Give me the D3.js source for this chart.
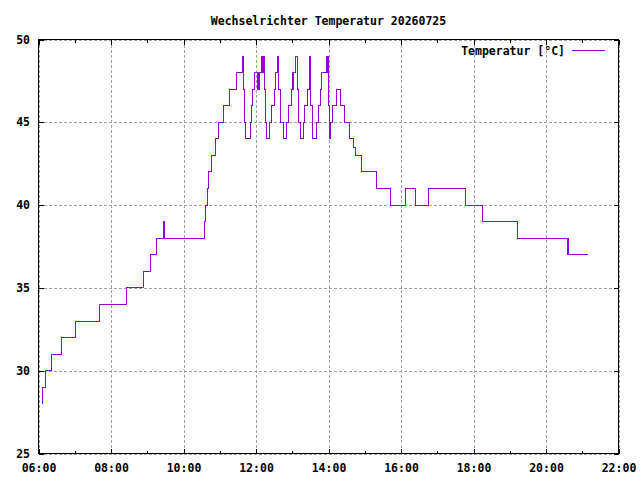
<!DOCTYPE html>
<html>
<head>
<meta charset="utf-8">
<script src="https://cdn.jsdelivr.net/npm/d3@7"></script>
<style>
body { margin: 0; background: #fff; }
text { font-family: "DejaVu Sans Mono", monospace; font-weight: bold; font-size: 11.5px; fill: #000; }
</style>
</head>
<body>
<div id="chart"></div>
<script>
// Messwerte (Zeitpunkt der Aenderung, Temperatur)
var times = [
    '06:06', '06:07', '06:12', '06:21', '06:38', '07:01', '07:41', '08:25', '08:54', '09:05',
    '09:16', '09:27', '09:29', '10:34', '10:36', '10:39', '10:42', '10:46', '10:53', '10:58',
    '11:06', '11:16', '11:27', '11:37', '11:40', '11:41', '11:43', '11:51', '11:52', '11:54',
    '11:57', '12:02', '12:03', '12:04', '12:05', '12:09', '12:11', '12:12', '12:14', '12:16',
    '12:18', '12:22', '12:25', '12:30', '12:32', '12:35', '12:37', '12:41', '12:45', '12:51',
    '12:54', '12:58', '13:00', '13:01', '13:02', '13:03', '13:05', '13:08', '13:11', '13:14',
    '13:18', '13:21', '13:26', '13:28', '13:29', '13:30', '13:31', '13:33', '13:40', '13:44',
    '13:47', '13:48', '13:56', '13:57', '13:58', '14:00', '14:01', '14:03', '14:07', '14:14',
    '14:20', '14:27', '14:35', '14:42', '14:44', '14:55', '15:20', '15:43', '16:07', '16:24',
    '16:45', '17:47', '18:15', '19:12', '20:35', '20:36', '20:37', '21:09'
];
var temps = [
    28, 29, 30, 31, 32, 33, 34, 35, 36, 37,
    38, 39, 38, 39, 40, 41, 42, 43, 44, 45,
    46, 47, 48, 49, 47, 45, 44, 45, 46, 47,
    48, 47, 48, 47, 48, 49, 48, 49, 47, 45,
    44, 45, 46, 47, 48, 49, 47, 45, 44, 45,
    46, 47, 48, 47, 48, 48, 49, 47, 45, 44,
    45, 46, 47, 48, 49, 48, 46, 44, 45, 46,
    47, 48, 49, 48, 49, 46, 44, 45, 46, 47,
    46, 45, 44, 43.5, 43, 42, 41, 40, 41, 40,
    41, 40, 39, 38, 37, 38, 37, 37
];
var y_ticks = [25, 30, 35, 40, 45, 50];
var x_domain = ['06:00', '22:00'];
var title = 'Wechselrichter Temperatur 20260725';
var series_name = 'Temperatur [°C]';

var chart_width = 640;
var chart_height = 480;
var plot = { left: 38.5, right: 618.5, top: 39.5, bottom: 453.5 };

var time_parse = d3.timeParse('%H:%M');
var time_format = d3.timeFormat('%H:%M');

var data = times.map(function (t, i) {
    return { date: time_parse(t), temp: temps[i] };
});

var svg = d3.select('#chart')
    .append('svg')
    .attr('width', chart_width)
    .attr('height', chart_height);

var x_scale = d3.scaleTime()
    .domain(x_domain.map(time_parse))
    .range([plot.left, plot.right]);

var y_scale = d3.scaleLinear()
    .domain([25, 50])
    .range([plot.bottom, plot.top]);

var major_x = d3.timeHour.every(2).range(x_scale.domain()[0], d3.timeMinute.offset(x_scale.domain()[1], 1));
var minor_x = d3.timeHour.range(x_scale.domain()[0], x_scale.domain()[1]).filter(function (d) {
    return d.getHours() % 2 == 1;
});

// Gitter
var grid = svg.append('g')
    .attr('stroke', '#a0a0a0')
    .attr('stroke-dasharray', '3,2')
    .attr('shape-rendering', 'crispEdges');
grid.selectAll('.gx')
    .data(major_x)
    .enter()
    .append('line')
    .attr('x1', function (d) { return Math.round(x_scale(d)) + 0.5; })
    .attr('x2', function (d) { return Math.round(x_scale(d)) + 0.5; })
    .attr('y1', plot.top)
    .attr('y2', plot.bottom);
grid.selectAll('.gy')
    .data(y_ticks)
    .enter()
    .append('line')
    .attr('x1', plot.left)
    .attr('x2', plot.right)
    .attr('y1', function (d) { return Math.round(y_scale(d)) + 0.5; })
    .attr('y2', function (d) { return Math.round(y_scale(d)) + 0.5; });

// Temperaturkurve
var line = d3.line()
    .x(function (d) { return x_scale(d.date); })
    .y(function (d) { return y_scale(d.temp); })
    .curve(d3.curveStepAfter);

svg.append('path')
    .datum(data)
    .attr('d', line)
    .attr('fill', 'none')
    .attr('stroke', '#9400d3')
    .attr('stroke-width', 1)
    .attr('shape-rendering', 'crispEdges');

// Achsen
function clean(g) {
    g.select('.domain').remove();
    g.selectAll('line').attr('stroke', '#000').attr('shape-rendering', 'crispEdges');
    g.selectAll('text').attr('font-family', null).attr('font-size', null).attr('fill', '#000');
}

svg.append('g')
    .attr('transform', 'translate(' + plot.left + ',0)')
    .call(d3.axisLeft(y_scale).tickValues(y_ticks).tickSize(-5).tickPadding(8.5))
    .call(clean);

svg.append('g')
    .attr('transform', 'translate(' + plot.right + ',0)')
    .call(d3.axisRight(y_scale).tickValues(y_ticks).tickSize(-5).tickFormat(''))
    .call(clean);

svg.append('g')
    .attr('transform', 'translate(0,' + plot.bottom + ')')
    .call(d3.axisBottom(x_scale).tickValues(major_x).tickSize(-5).tickPadding(10).tickFormat(time_format))
    .call(clean);

svg.append('g')
    .attr('transform', 'translate(0,' + plot.bottom + ')')
    .call(d3.axisBottom(x_scale).tickValues(minor_x).tickSize(-3).tickFormat(''))
    .call(clean);

svg.append('g')
    .attr('transform', 'translate(0,' + plot.top + ')')
    .call(d3.axisTop(x_scale).tickValues(major_x).tickSize(-5).tickFormat(''))
    .call(clean);

svg.append('g')
    .attr('transform', 'translate(0,' + plot.top + ')')
    .call(d3.axisTop(x_scale).tickValues(minor_x).tickSize(-3).tickFormat(''))
    .call(clean);

// Rahmen
svg.append('rect')
    .attr('x', plot.left)
    .attr('y', plot.top)
    .attr('width', plot.right - plot.left)
    .attr('height', plot.bottom - plot.top)
    .attr('fill', 'none')
    .attr('stroke', '#000')
    .attr('shape-rendering', 'crispEdges');

// Titel
svg.append('text')
    .attr('x', (plot.left + plot.right) / 2)
    .attr('y', 25)
    .attr('text-anchor', 'middle')
    .text(title);

// Legende
svg.append('text')
    .attr('x', 565)
    .attr('y', 54.5)
    .attr('text-anchor', 'end')
    .text(series_name);
svg.append('line')
    .attr('x1', 572)
    .attr('x2', 605)
    .attr('y1', 50.5)
    .attr('y2', 50.5)
    .attr('stroke', '#9400d3')
    .attr('stroke-width', 1)
    .attr('shape-rendering', 'crispEdges');
</script>
</body>
</html>
